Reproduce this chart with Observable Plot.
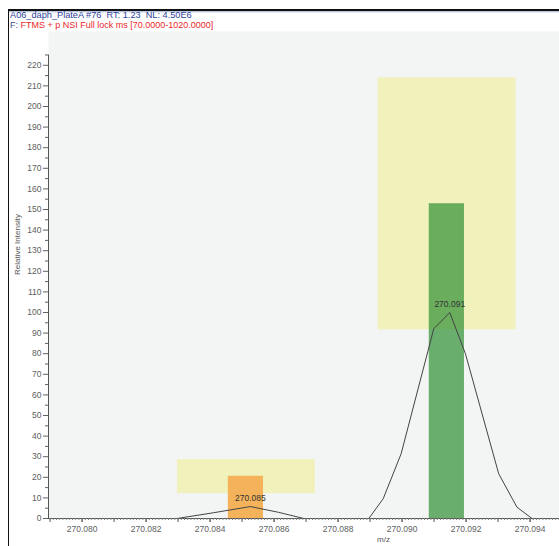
<!DOCTYPE html>
<html>
<head>
<meta charset="utf-8">
<script src="https://cdn.jsdelivr.net/npm/d3@7"></script>
<script src="https://cdn.jsdelivr.net/npm/@observablehq/plot@0.6"></script>
<style>
  html, body { margin: 0; padding: 0; background: #fff; }
  #wrap { position: relative; width: 559px; height: 546px; overflow: hidden; font-family: "Liberation Sans", Arial, sans-serif; }
  #topline { position: absolute; left: 8px; top: 9px; width: 551px; height: 1.5px; background: #111; }
  #topglow { position: absolute; left: 9px; top: 10.5px; width: 550px; height: 2px; background: linear-gradient(#9fb2cf, rgba(200,215,235,0)); }
  #leftline { position: absolute; left: 8px; top: 9px; width: 1px; height: 537px; background: #111; }
  #header { position: absolute; left: 10px; top: 11px; font-size: 9px; line-height: 9.6px; white-space: pre; }
  #header .l1 { color: #2f3f9c; font-size: 9.2px; }
  #header .f { color: #44509a; }
  #header .red { color: #e8282c; }
  #chart { position: absolute; left: 0; top: 0; }
</style>
</head>
<body>
<div id="wrap">
  <div id="chart"></div>
  <div id="topline"></div>
  <div id="topglow"></div>
  <div id="leftline"></div>
  <div id="header"><div class="l1">A06_daph_PlateA #76  RT: 1.23  NL: 4.50E6</div><div><span class="f">F: </span><span class="red">FTMS + p NSI Full lock ms [70.0000-1020.0000]</span></div></div>
</div>
<script>
// ---- scales
const xDomain = [270.07895, 270.09492];
const yDomain = [0, 236.4];
const yAxisTop = 225;

// ---- tick labels
const xMajorTicks = [270.080, 270.082, 270.084, 270.086, 270.088, 270.090, 270.092, 270.094];
const yMajorTicks = d3.range(0, 221, 10);

// ---- yellow isotope windows
const boxMzLow  = [270.08298, 270.08925];
const boxMzHigh = [270.08729, 270.09356];
const boxIntLow  = [12.1, 91.6];
const boxIntHigh = [28.6, 213.9];

// ---- predicted bars
const barMzLow  = [270.08457, 270.09085];
const barMzHigh = [270.08567, 270.09195];
const barInt    = [20.5, 152.8];
const barColor  = ["#f4b35a", "rgb(47,144,53)"];
const barOpacity = [1, 0.7];

// ---- profile spectrum
const profileMz = [
  270.08297, 270.08411, 270.08526, 270.08614, 270.08693,
  270.08896, 270.08941, 270.08997, 270.09099, 270.09149, 270.09198, 270.09302, 270.09359, 270.09406
];
const profileInt = [
  0, 2.8, 5.8, 3.0, 0,
  0, 9.6, 31.4, 92.1, 100, 80, 21.7, 5.5, 0
];
const profileGroup = [0,0,0,0,0, 1,1,1,1,1,1,1,1,1];

// ---- peak labels
const peakMz = [270.08526, 270.09149];
const peakInt = [5.8, 100];
const peakText = ["270.085", "270.091"];

const yLabel = "Relative Intensity";
const xLabel = "m/z";
const xLabelAt = 270.08942;

const boxes = boxMzLow.map((d, i) => ({x1: d, x2: boxMzHigh[i], y1: boxIntLow[i], y2: boxIntHigh[i]}));
const bars = barMzLow.map((d, i) => ({x1: d, x2: barMzHigh[i], y: barInt[i], fill: barColor[i], op: barOpacity[i]}));
const profile = profileMz.map((d, i) => ({mz: d, int: profileInt[i], g: profileGroup[i]}));
const peaks = peakMz.map((d, i) => ({mz: d, int: peakInt[i], t: peakText[i]}));

const minorX = d3.range(0, 160).map(i => +(270.0790 + i * 0.0001).toFixed(4)).filter(v => v >= xDomain[0] && v <= xDomain[1]);
const midX = d3.range(0, 16).map(i => +(270.079 + i * 0.001).toFixed(3)).filter(v => v >= xDomain[0] && v <= xDomain[1]);
const minorY = d3.range(5, 226, 10);

const fmt = d3.format(".3f");

const chart = Plot.plot({
  width: 559,
  height: 546,
  marginLeft: 48,
  marginRight: 0,
  marginTop: 31,
  marginBottom: 28,
  x: {domain: xDomain},
  y: {domain: yDomain},
  style: {fontFamily: "'Liberation Sans', Arial, sans-serif", fontSize: "8.5px", background: "transparent", overflow: "visible"},
  marks: [
    Plot.frame({fill: "#f3f4f4", stroke: null}),
    Plot.rect(boxes, {x1: "x1", x2: "x2", y1: "y1", y2: "y2", fill: "#f1f2bb"}),
    Plot.rect(bars, {x1: "x1", x2: "x2", y1: 0, y2: "y", fill: d => d.fill, fillOpacity: d => d.op}),
    Plot.line(profile, {x: "mz", y: "int", z: "g", stroke: "#444", strokeWidth: 1}),
    Plot.text(peaks, {x: "mz", y: "int", text: "t", dy: -8, fill: "#333", fontSize: 8.5}),
    // axes
    Plot.ruleY([0], {stroke: "#555", strokeWidth: 1}),
    Plot.ruleX([xDomain[0]], {y1: 0, y2: yAxisTop, stroke: "#555", strokeWidth: 1}),
    Plot.axisY(yMajorTicks, {tickSize: 5, tickPadding: 2, color: "#606060", label: null, fontSize: 8.5}),
    Plot.axisY(minorY, {tickSize: 3, text: null, color: "#606060", label: null}),
    Plot.axisX(xMajorTicks, {tickSize: 4, tickPadding: 3, color: "#606060", label: null, tickFormat: fmt, fontSize: 8.5}),
    Plot.axisX(midX, {tickSize: 4, text: null, color: "#606060", label: null}),
    Plot.axisX(minorX, {tickSize: 2, text: null, color: "#808080", label: null}),
    Plot.text([yLabel], {frameAnchor: "left", dx: -31, rotate: -90, fill: "#555", fontSize: 8}),
    Plot.text([xLabel], {x: () => xLabelAt, frameAnchor: "bottom", dy: 23, fill: "#555", fontSize: 8})
  ]
});
document.getElementById("chart").appendChild(chart);
</script>
</body>
</html>
